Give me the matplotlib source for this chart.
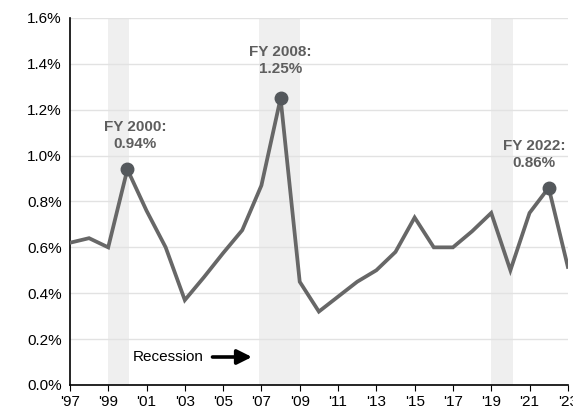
# Recreate line chart of yearly rate with recession shading.
import matplotlib.pyplot as plt
from matplotlib.ticker import FuncFormatter

plt.rcParams['font.family'] = ['Liberation Sans', 'DejaVu Sans']

# Data.
years = list(range(1997, 2024))
rates = [0.62, 0.64, 0.60, 0.94, 0.76, 0.60, 0.37, 0.47, 0.575, 0.675, 0.87, 1.25,
         0.45, 0.32, 0.385, 0.45, 0.50, 0.58, 0.73, 0.60, 0.60, 0.67, 0.75, 0.50,
         0.75, 0.86, 0.515]
recessions = [(1999.0, 2000.1), (2006.85, 2009.0), (2019.0, 2020.15)]
highlight_years = [2000, 2008, 2022]
highlight_labels = ['FY 2000:\n0.94%', 'FY 2008:\n1.25%', 'FY 2022:\n0.86%']
label_x = [2000.42, 2008.0, 2021.25]
label_y = [1.087, 1.415, 1.004]
tick_years = list(range(1997, 2024, 2))

fig = plt.figure(figsize=(5.73, 4.11), dpi=100)
ax = fig.add_axes([0.122, 0.0633, 0.869, 0.893])

# Shaded recession bands.
for start, end in recessions:
    ax.axvspan(start, end, color='#efefef', zorder=0, lw=0)

# Main line.
ax.plot(years, rates, color='#676767', lw=2.7, zorder=3, solid_joinstyle='miter')

# Highlighted points with labels.
for yr, lab, lx, ly in zip(highlight_years, highlight_labels, label_x, label_y):
    val = rates[years.index(yr)]
    ax.plot(yr, val, 'o', color='#54585c', ms=9, zorder=4)
    ax.text(lx, ly, lab, ha='center', va='center', fontsize=11,
            fontweight='bold', color='#5e5e5e', linespacing=1.25)

# Recession note.
ax.text(2000.3, 0.122, 'Recession', fontsize=11, va='center', ha='left', color='black')
ax.annotate('', xy=(2006.65, 0.122), xytext=(2004.3, 0.122),
            arrowprops=dict(arrowstyle='-|>', color='black', lw=2.6, mutation_scale=22))

ax.set_xlim(1997, 2023)
ax.set_ylim(0, 1.6)
ax.set_yticks([0, 0.2, 0.4, 0.6, 0.8, 1.0, 1.2, 1.4, 1.6])
ax.yaxis.set_major_formatter(FuncFormatter(lambda v, p: f'{v:.1f}%'))
ax.set_xticks(tick_years)
ax.set_xticklabels(["'" + str(y)[2:] for y in tick_years])
ax.grid(axis='y', color='#e2e2e2', lw=1)
ax.set_axisbelow(True)

for side in ['top', 'right']:
    ax.spines[side].set_visible(False)
ax.spines['left'].set_color('black')
ax.spines['bottom'].set_color('black')
ax.spines['left'].set_linewidth(1.2)
ax.spines['bottom'].set_linewidth(1.2)
ax.tick_params(axis='y', length=0, labelsize=11, pad=6)
ax.tick_params(axis='x', length=4, labelsize=11, pad=3, direction='out')

fig.savefig('out.png', dpi=100)
